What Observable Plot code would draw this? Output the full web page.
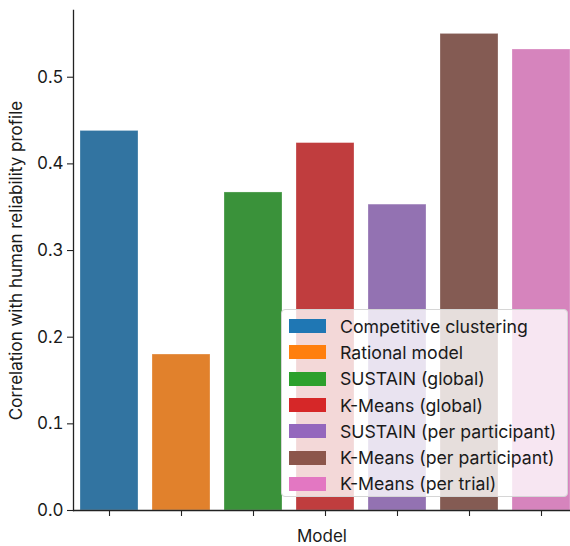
<!DOCTYPE html>
<html>
<head>
<meta charset="utf-8">
<script src="https://cdn.jsdelivr.net/npm/d3@7"></script>
<script src="https://cdn.jsdelivr.net/npm/@observablehq/plot@0.6"></script>
<style>
  html, body { margin: 0; padding: 0; background: white; }
  #wrap { position: relative; width: 570px; height: 546px; overflow: hidden; font-family: Inter, sans-serif; }
  #legend { position: absolute; left: 281px; top: 309px; width: 287px; height: 188px; box-sizing: border-box;
    background: rgba(255,255,255,0.8); border: 1px solid #d6d6d6; border-radius: 4px; padding: 3px 0 0 7px; }
  .item { display: flex; align-items: center; height: 26.3px; font-size: 17.7px; color: #1a1a1a; white-space: nowrap; }
  .sw { width: 37px; height: 14px; margin-right: 14px; flex: none; }
</style>
</head>
<body>
<div id="wrap"></div>
<script>
const models = ["Competitive clustering", "Rational model", "SUSTAIN (global)", "K-Means (global)",
  "SUSTAIN (per participant)", "K-Means (per participant)", "K-Means (per trial)"];
const values = [0.438, 0.180, 0.367, 0.424, 0.353, 0.550, 0.532];
const barColors = ["#3274a1", "#e1812c", "#3a923a", "#c03d3e", "#9372b2", "#845b53", "#d684bd"];
const legendColors = ["#1f77b4", "#ff7f0e", "#2ca02c", "#d62728", "#9467bd", "#8c564b", "#e377c2"];
const yTicks = [0.0, 0.1, 0.2, 0.3, 0.4, 0.5];

const data = models.map((m, i) => ({model: m, value: values[i]}));

const chart = Plot.plot({
  width: 570,
  height: 546,
  marginLeft: 73,
  marginTop: 10,
  marginBottom: 36,
  marginRight: 0,
  style: {fontFamily: "Inter, sans-serif", fontSize: "17px", color: "#1a1a1a", overflow: "hidden"},
  x: {domain: models, range: [73, 577], paddingInner: 0.2, paddingOuter: 0.1, label: null},
  y: {domain: [0, 0.577], label: null},
  color: {domain: models, range: barColors},
  marks: [
    Plot.barY(data, {x: "model", y: "value", fill: "model", stroke: "white", strokeOpacity: 0.35, strokeWidth: 0.8}),
    Plot.axisY(yTicks, {tickFormat: d3.format(".1f"), tickSize: 6, tickPadding: 4, fontSize: 17, stroke: "#222", strokeWidth: 1.1,
      label: "Correlation with human reliability profile", labelAnchor: "center", labelOffset: 64, labelArrow: "none"}),
    Plot.axisX({tickFormat: () => "", tickSize: 6, stroke: "#222", strokeWidth: 1.1, fontSize: 17,
      label: "Model", labelAnchor: "center", labelOffset: 31, labelArrow: "none"}),
    Plot.ruleY([0], {stroke: "#222", strokeWidth: 1.3}),
    Plot.frame({anchor: "left", stroke: "#222", strokeWidth: 1.3})
  ]
});

const wrap = document.getElementById("wrap");
wrap.appendChild(chart);

const legend = document.createElement("div");
legend.id = "legend";
models.forEach((m, i) => {
  const it = document.createElement("div");
  it.className = "item";
  const sw = document.createElement("div");
  sw.className = "sw";
  sw.style.background = legendColors[i];
  const t = document.createElement("span");
  t.textContent = m;
  it.appendChild(sw);
  it.appendChild(t);
  legend.appendChild(it);
});
wrap.appendChild(legend);
</script>
</body>
</html>
